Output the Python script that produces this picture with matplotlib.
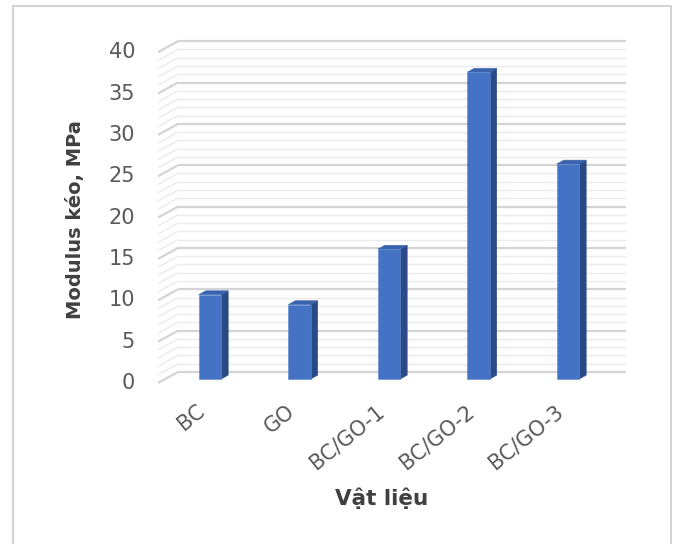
import matplotlib
matplotlib.use("Agg")
import matplotlib.pyplot as plt
from matplotlib.patches import Polygon, Rectangle

# chart data
categories = ["BC", "GO", "BC/GO-1", "BC/GO-2", "BC/GO-3"]
modulus = [10.2, 9.0, 15.7, 37.1, 26.0]
y_ticks = [0, 5, 10, 15, 20, 25, 30, 35, 40]
y_max = 40
y_title = "Modulus kéo, MPa"
x_title = "Vật liệu"

# canvas and scale
W, H, DPI = 675, 544, 100
PX_CAT = 89.5          # pixels per category slot
PX_VAL = 8.27          # pixels per MPa
ORIGIN = (210, 379)    # pixel of (first category, 0) on the bars' front plane

fig = plt.figure(figsize=(W / DPI, H / DPI), dpi=DPI)
fig.patch.set_facecolor("white")
ax = fig.add_axes([0, 0, 1, 1])
ax.set_xlim(-ORIGIN[0] / PX_CAT, (W - ORIGIN[0]) / PX_CAT)
ax.set_ylim(-(H - ORIGIN[1]) / PX_VAL, ORIGIN[1] / PX_VAL)
ax.axis("off")

# oblique 3-D look: offsets for the full depth of the plot box
DEPTH_DX = 20 / PX_CAT
DEPTH_DY = 11 / PX_VAL
BAR_FRONT = 0.36
BAR_BACK = 0.71
BAR_W = 0.25


def shift(d):
    """Offset of depth fraction d relative to the bars' front plane."""
    return ((d - BAR_FRONT) * DEPTH_DX, (d - BAR_FRONT) * DEPTH_DY)


left = -0.5
right = len(categories) - 0.5
fx, fy = shift(0.0)
bx, by = shift(1.0)

# gridlines on the back wall and the left side wall
for v in range(0, y_max + 1):
    major = v % 5 == 0
    col = "#d4d4d4" if major else "#ebebeb"
    lw = 1.6 if major else 1.0
    z = 2 if major else 1
    ax.plot([left + bx, right + bx], [v + by, v + by], color=col, lw=lw,
             zorder=z, solid_capstyle="butt")
    ax.plot([left + fx, left + bx], [v + fy, v + by], color=col, lw=lw,
             zorder=z, solid_capstyle="butt")

# bars
sx, sy = shift(BAR_BACK)
for i, v in enumerate(modulus):
    x0, x1 = i - BAR_W / 2, i + BAR_W / 2
    front = Rectangle((x0, 0), BAR_W, v, facecolor="#4472c4",
                      edgecolor="#5b85d0", lw=0.4, zorder=5)
    side = Polygon([(x1, 0), (x1 + sx, sy), (x1 + sx, v + sy), (x1, v)],
                   closed=True, facecolor="#2a4a86", edgecolor="#2a4a86",
                   lw=0.4, zorder=4)
    top = Polygon([(x0, v), (x1, v), (x1 + sx, v + sy), (x0 + sx, v + sy)],
                  closed=True, facecolor="#3a63ae", edgecolor="#3a63ae",
                  lw=0.4, zorder=4)
    ax.add_patch(side)
    ax.add_patch(top)
    ax.add_patch(front)

# value axis labels
tick_x = (135 - ORIGIN[0]) / PX_CAT
for v in y_ticks:
    ax.text(tick_x, v + fy, str(v), ha="right", va="center", fontsize=15,
            color="#595959", family="DejaVu Sans")

# category labels
cat_y = (ORIGIN[1] - 401) / PX_VAL
for i, name in enumerate(categories):
    ax.text(i - 1 / PX_CAT, cat_y, name, rotation=39, ha="right", va="top",
            fontsize=15, color="#595959", family="DejaVu Sans")

# axis titles
ax.text((382 - ORIGIN[0]) / PX_CAT, (ORIGIN[1] - 505) / PX_VAL, x_title,
        ha="center", va="baseline", fontsize=15.5, fontweight="bold",
        color="#404040", family="DejaVu Sans")
ax.text((75 - ORIGIN[0]) / PX_CAT, (ORIGIN[1] - 220) / PX_VAL, y_title,
        rotation=90, ha="center", va="center", fontsize=14,
        fontweight="bold", color="#404040", family="DejaVu Sans")

# chart area border
fig.add_artist(Rectangle((13 / W, -0.05), (671 - 13) / W, 1 - 6 / H + 0.05,
                         transform=fig.transFigure, facecolor="none",
                         edgecolor="#d4d4d4", lw=1.5, clip_on=False))

fig.savefig("out.png", dpi=DPI, facecolor="white")
